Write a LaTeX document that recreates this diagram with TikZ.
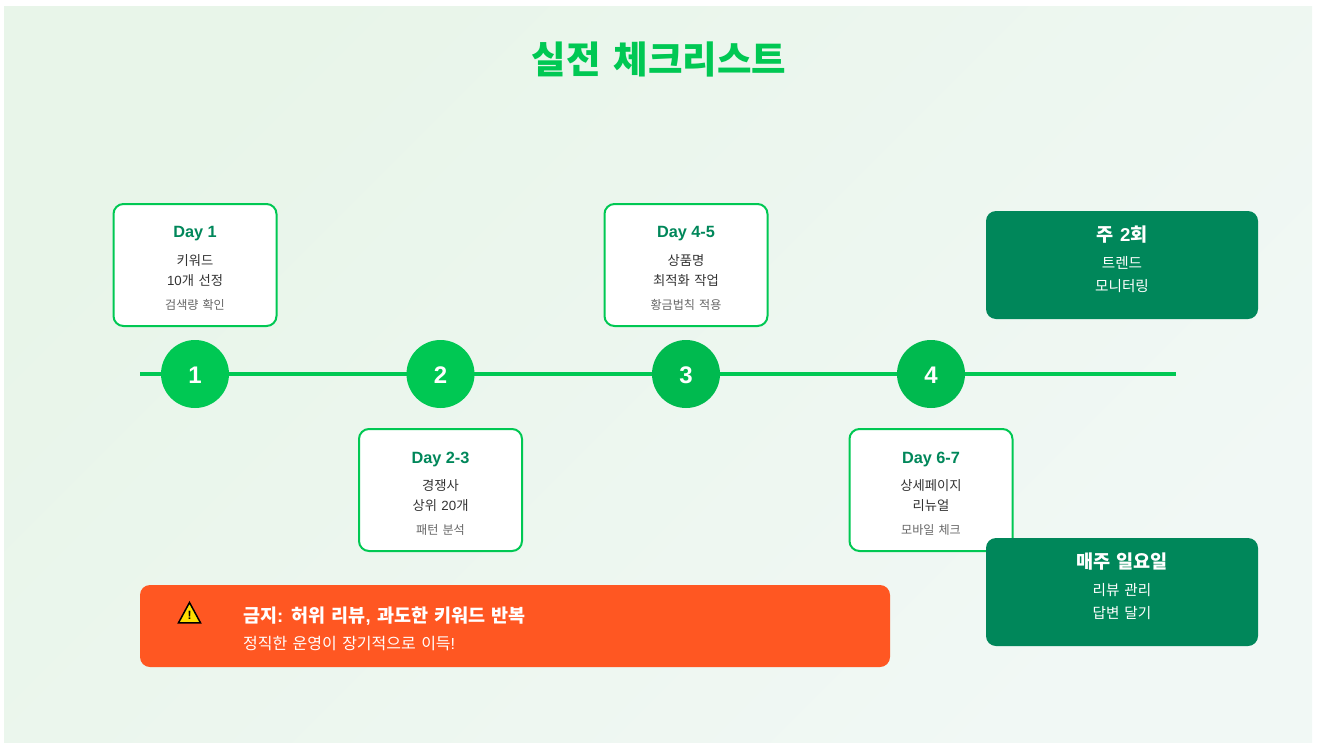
\documentclass[tikz,border=0pt]{standalone}
\usepackage{fontspec}
\setmainfont{Liberation Sans}
\newfontfamily\kr[WordSpace=1.5]{Noto Sans CJK KR}
\newcommand{\lat}[1]{{\rmfamily #1}}
\newcommand{\numtxt}[1]{\raisebox{-9.6pt}[0pt][0pt]{#1}}
\definecolor{grn}{HTML}{00C853}
\definecolor{grnb}{HTML}{00BA4F}
\definecolor{dgrn}{HTML}{00875A}
\definecolor{red1}{HTML}{FF5722}
\definecolor{bgA}{HTML}{E8F5E9}
\definecolor{bgB}{HTML}{F1F8F5}
\definecolor{txt}{HTML}{333333}
\definecolor{sub}{HTML}{666666}
\definecolor{warnY}{HTML}{FFDD00}
\tikzset{
 x=1pt,y=-1pt,
 daybox/.style={draw=grn,line width=2pt,fill=white,rounded corners=10pt,minimum width=163pt,minimum height=122pt,inner sep=0pt},
 numdot/.style={circle,fill=grn,minimum size=68pt,inner sep=0pt,text=white,font=\bfseries\fontsize{24}{28}\selectfont},
 sidebox/.style={fill=dgrn,rounded corners=10pt,minimum width=272pt,minimum height=108pt,inner sep=0pt},
 ttl/.style={text=dgrn,font=\bfseries\fontsize{16.3}{20}\selectfont,inner sep=0pt},
 bodyt/.style={text=txt,font=\kr\fontsize{13.3}{16}\selectfont,inner sep=0pt},
 subt/.style={text=sub,font=\kr\fontsize{12.1}{14}\selectfont,inner sep=0pt},
 sidet/.style={text=white,font=\kr\bfseries\fontsize{18.6}{22}\selectfont,inner sep=0pt},
 sideb/.style={text=white,font=\kr\fontsize{14.6}{18}\selectfont,inner sep=0pt},
}
\begin{document}
\begin{tikzpicture}
\useasboundingbox (0,0) rectangle (1318,750);
\node[minimum width=1308pt,minimum height=736pt,inner sep=0pt,top color=bgA,bottom color=bgB,shading angle=45,anchor=north west] (bg) at (4,6) {};
\node[text=grn,font=\kr\bfseries\fontsize{37.5}{44}\selectfont,inner sep=0pt] (title) at (659,59.5) {실전 체크리스트};
\coordinate (ls) at (140,374);
\coordinate (le) at (1176,374);
\draw[grn,line width=4pt] (ls) -- (le);
\node[numdot] (n1) at (195,374) {\numtxt{1}};
\node[numdot] (n2) at (440.5,374) {\numtxt{2}};
\node[numdot,fill=grnb] (n3) at (686,374) {\numtxt{3}};
\node[numdot,fill=grnb] (n4) at (931,374) {\numtxt{4}};
% day boxes
\node[daybox] (d1) at (195,265) {};
\node[ttl] (d1t) at (195,234) {Day 1};
\node[bodyt] (d1a) at (195,260.5) {키워드};
\node[bodyt] (d1b) at (195,280.5) {\lat{10}개 선정};
\node[subt] (d1c) at (195,304.5) {검색량 확인};
\node[daybox] (d2) at (440.5,490) {};
\node[ttl] (d2t) at (440.5,459) {Day 2-3};
\node[bodyt] (d2a) at (440.5,485.5) {경쟁사};
\node[bodyt] (d2b) at (440.5,505.5) {상위 \lat{20}개};
\node[subt] (d2c) at (440.5,529.5) {패턴 분석};
\node[daybox] (d3) at (686,265) {};
\node[ttl] (d3t) at (686,234) {Day 4-5};
\node[bodyt] (d3a) at (686,260.5) {상품명};
\node[bodyt] (d3b) at (686,280.5) {최적화 작업};
\node[subt] (d3c) at (686,304.5) {황금법칙 적용};
\node[daybox] (d4) at (931,490) {};
\node[ttl] (d4t) at (931,459) {Day 6-7};
\node[bodyt] (d4a) at (931,485.5) {상세페이지};
\node[bodyt] (d4b) at (931,505.5) {리뉴얼};
\node[subt] (d4c) at (931,529.5) {모바일 체크};
% side boxes
\node[sidebox] (s1) at (1122,265) {};
\node[sidet] (s1t) at (1122,234.5) {주 \lat{2}회};
\node[sideb] (s1a) at (1122,262.5) {트렌드};
\node[sideb] (s1b) at (1122,286) {모니터링};
\node[sidebox] (s2) at (1122,592) {};
\node[sidet] (s2t) at (1122,561.5) {매주 일요일};
\node[sideb] (s2a) at (1122,590.5) {리뷰 관리};
\node[sideb] (s2b) at (1122,613.5) {답변 달기};
% warning
\node[fill=red1,rounded corners=10pt,minimum width=750pt,minimum height=82pt,inner sep=0pt] (w) at (515,626) {};
\draw[black,fill=warnY,line width=1.5pt,line join=miter] (189.5,602.5) -- (200.5,622.8) -- (178.5,622.8) -- cycle;
\node[text=black,font=\bfseries\fontsize{12}{14}\selectfont,inner sep=0pt] (wm) at (189.5,615) {!};
\node[text=white,font=\kr\bfseries\fontsize{18.5}{22}\selectfont,inner sep=0pt,anchor=west] (w1) at (243,616.5) {금지\lat{:} 허위 리뷰\lat{,} 과도한 키워드 반복};
\node[text=white,font=\kr\fontsize{16}{20}\selectfont,inner sep=0pt,anchor=west] (w2) at (243,644) {정직한 운영이 장기적으로 이득\lat{!}};
\end{tikzpicture}
\end{document}
